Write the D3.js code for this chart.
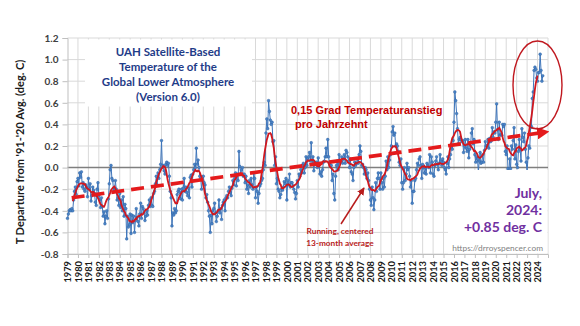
<!DOCTYPE html>
<html>
<head>
<meta charset="utf-8">
<script src="https://cdnjs.cloudflare.com/ajax/libs/d3/7.8.5/d3.min.js"></script>
<style>
  body { margin: 0; background: #fff; }
  .chart text { font-family: Lato, "Open Sans", sans-serif; font-weight: bold; }
</style>
</head>
<body>
<svg class="chart" width="580" height="326"></svg>
<script>

//DATA

// UAH LT v6.0 monthly anomalies, Jan 1979 .. Jul 2024 (one row per year)
var anomalies = [
  -0.47,-0.43,-0.40,-0.39,-0.40,-0.38,-0.40,-0.30,-0.22,-0.18,-0.25,-0.13, // 1979
  -0.10,-0.17,-0.05,-0.09,-0.04,-0.18,-0.14,-0.20,-0.22,-0.16,-0.18,-0.27, // 1980
  -0.10,-0.20,-0.15,-0.31,-0.26,-0.18,-0.21,-0.24,-0.32,-0.35,-0.20,-0.14, // 1981
  -0.26,-0.30,-0.37,-0.28,-0.36,-0.45,-0.41,-0.52,-0.45,-0.40,-0.47,-0.29, // 1982
  -0.15,-0.02, 0.02,-0.10,-0.12,-0.22,-0.20,-0.12,-0.20,-0.30,-0.28,-0.35, // 1983
  -0.24,-0.37,-0.30,-0.40,-0.27,-0.45,-0.34,-0.38,-0.66,-0.45,-0.55,-0.53, // 1984
  -0.43,-0.61,-0.44,-0.51,-0.45,-0.60,-0.49,-0.38,-0.46,-0.50,-0.54,-0.43, // 1985
  -0.33,-0.47,-0.36,-0.38,-0.42,-0.49,-0.45,-0.40,-0.44,-0.35,-0.30,-0.36, // 1986
  -0.28,-0.35,-0.36,-0.24,-0.22,-0.15,-0.08,-0.16,-0.05,-0.10,-0.02, 0.03, // 1987
   0.25, 0.00, 0.02,-0.03,-0.06, 0.03, 0.05, 0.02, 0.04,-0.08,-0.22,-0.28, // 1988
  -0.54,-0.42,-0.44,-0.38,-0.42,-0.40,-0.25,-0.22,-0.20,-0.23,-0.29,-0.20, // 1989
  -0.30,-0.19,-0.10,-0.22,-0.18,-0.23,-0.26,-0.19,-0.28,-0.09,-0.07,-0.18, // 1990
  -0.06,-0.02, 0.03, 0.00, 0.18, 0.03, 0.07, 0.00,-0.08,-0.10,-0.20,-0.12, // 1991
  -0.08,-0.14,-0.16,-0.28,-0.25,-0.32,-0.40,-0.45,-0.60,-0.44,-0.52,-0.40, // 1992
  -0.38,-0.33,-0.42,-0.50,-0.45,-0.40,-0.30,-0.42,-0.38,-0.48,-0.35,-0.32, // 1993
  -0.30,-0.40,-0.28,-0.26,-0.28,-0.22,-0.18,-0.23,-0.26,-0.19,-0.12,-0.16, // 1994
  -0.10,-0.05,-0.17,-0.06,-0.12, 0.15, 0.01,-0.06,-0.02, 0.00,-0.08,-0.06, // 1995
  -0.14,-0.08,-0.20,-0.16,-0.24,-0.12,-0.18,-0.10,-0.16,-0.20,-0.05,-0.10, // 1996
  -0.28,-0.18,-0.22,-0.33,-0.24,-0.17,-0.15,-0.12,-0.10,-0.02, 0.05, 0.02, // 1997
   0.32, 0.45, 0.36, 0.62, 0.52, 0.44, 0.40, 0.42, 0.24, 0.25, 0.02, 0.10, // 1998
  -0.15,-0.10,-0.20,-0.22,-0.28,-0.25,-0.20,-0.21,-0.18,-0.13,-0.15,-0.10, // 1999
  -0.30,-0.12,-0.16,-0.06,-0.18,-0.14,-0.14,-0.17,-0.20,-0.23,-0.29,-0.24, // 2000
  -0.12,-0.18,-0.06,-0.08,-0.02,-0.05, 0.02, 0.04,-0.05, 0.00, 0.10, 0.02, // 2001
   0.08, 0.10, 0.14, 0.06, 0.23, 0.03, 0.10,-0.03, 0.05, 0.03, 0.05, 0.00, // 2002
   0.09, 0.03,-0.06,-0.04,-0.08,-0.02, 0.05, 0.06, 0.10, 0.18, 0.10, 0.26, // 2003
   0.10, 0.04, 0.02, 0.02,-0.12,-0.06,-0.24,-0.30,-0.08, 0.02, 0.06,-0.02, // 2004
   0.12, 0.05, 0.06, 0.10, 0.04, 0.08, 0.12, 0.04, 0.16, 0.14, 0.10, 0.06, // 2005
   0.00, 0.08,-0.04,-0.06,-0.12, 0.00, 0.05, 0.02, 0.04, 0.08, 0.04, 0.12, // 2006
   0.20, 0.15, 0.02, 0.03, 0.00,-0.06, 0.00,-0.02,-0.10,-0.05,-0.12,-0.20, // 2007
  -0.30,-0.35,-0.18,-0.28,-0.39,-0.30,-0.14,-0.22,-0.10,-0.05,-0.10,-0.20, // 2008
  -0.05,-0.14,-0.20,-0.10,-0.18,-0.08, 0.06,-0.02, 0.10, 0.00, 0.07, 0.12, // 2009
   0.20, 0.33, 0.38, 0.30, 0.32, 0.20, 0.22, 0.20, 0.15, 0.05, 0.02, 0.08, // 2010
  -0.14,-0.20,-0.14, 0.00,-0.12,-0.06, 0.04,-0.02, 0.00,-0.08,-0.18,-0.12, // 2011
  -0.33,-0.22,-0.22,-0.12,-0.10,-0.02, 0.04, 0.02, 0.08, 0.10, 0.02,-0.10, // 2012
   0.03, 0.00,-0.05, 0.00,-0.06, 0.04, 0.02, 0.00, 0.12,-0.05, 0.10, 0.05, // 2013
  -0.06,-0.08, 0.02, 0.06, 0.10, 0.03,-0.02, 0.04, 0.12, 0.06, 0.02, 0.08, // 2014
   0.05, 0.00,-0.02,-0.06, 0.04, 0.10, 0.00, 0.08, 0.12, 0.18, 0.17, 0.25, // 2015
   0.42, 0.70, 0.62, 0.50, 0.36, 0.22, 0.26, 0.28, 0.26, 0.24, 0.25, 0.14, // 2016
   0.20, 0.26, 0.18, 0.15, 0.26, 0.09, 0.17, 0.20, 0.32, 0.36, 0.22, 0.26, // 2017
   0.12, 0.05, 0.10, 0.08,-0.04, 0.06, 0.14, 0.04, 0.05, 0.12, 0.05, 0.16, // 2018
   0.24, 0.20, 0.20, 0.26, 0.18, 0.27, 0.24, 0.25, 0.37, 0.28, 0.33, 0.32, // 2019
   0.42, 0.59, 0.35, 0.26, 0.42, 0.30, 0.31, 0.30, 0.40, 0.38, 0.40, 0.15, // 2020
   0.12, 0.20,-0.01,-0.05, 0.08,-0.01, 0.20, 0.17, 0.25, 0.37, 0.08, 0.21, // 2021
   0.03, 0.00, 0.15, 0.26, 0.17, 0.06, 0.36, 0.28, 0.24, 0.32, 0.17, 0.05, // 2022
  -0.04, 0.09, 0.20, 0.18, 0.37, 0.38, 0.64, 0.70, 0.90, 0.93, 0.91, 0.83, // 2023
   0.80, 0.88, 0.88, 1.05, 0.90, 0.80, 0.85                                // 2024
];

var years = [1979,1980,1981,1982,1983,1984,1985,1986,1987,1988,1989,1990,1991,1992,1993,
             1994,1995,1996,1997,1998,1999,2000,2001,2002,2003,2004,2005,2006,2007,2008,
             2009,2010,2011,2012,2013,2014,2015,2016,2017,2018,2019,2020,2021,2022,2023,2024];

var yTicks = [-0.8, -0.6, -0.4, -0.2, 0.0, 0.2, 0.4, 0.6, 0.8, 1.0, 1.2];

// dashed trend arrow: [year, anomaly]
var trendLine = [[1979.4, -0.28], [2024.9, 0.33]];

var titleLines = ["UAH Satellite-Based", "Temperature of the", "Global Lower Atmosphere", "(Version 6.0)"];
var trendLabel = ["0,15 Grad Temperaturanstieg", "pro Jahrzehnt"];
var avgLabel = ["Running, centered", "13-month average"];
var latestLabel = ["July,", "2024:", "+0.85 deg. C"];


//SETUP

var svg = d3.select(".chart"),
    margin = {top: 38, right: 32, bottom: 72, left: 67.5},
    width = +svg.attr("width") - margin.left - margin.right,
    height = +svg.attr("height") - margin.top - margin.bottom,
    g = svg.append("g").attr("transform", "translate(" + margin.left + "," + margin.top + ")");

var x = d3.scaleLinear()
    .domain([years[0], years[years.length - 1] + 1])
    .range([0, width]);

var y = d3.scaleLinear()
    .domain([yTicks[0], yTicks[yTicks.length - 1]])
    .range([height, 0]);

var series = anomalies.map(function(v, i) { return {t: years[0] + i / 12, v: v}; });

// centered 13-month running mean
var running = [];
for (var i = 6; i < series.length - 6; i++) {
  running.push({t: series[i].t, v: d3.mean(series.slice(i - 6, i + 7), function(d) { return d.v; })});
}

svg.append("defs").append("marker")
    .attr("id", "trendHead")
    .attr("viewBox", "0 0 10 10")
    .attr("refX", 8).attr("refY", 5)
    .attr("markerWidth", 3.4).attr("markerHeight", 3.4)
    .attr("orient", "auto")
  .append("path")
    .attr("d", "M0,0L10,5L0,10z")
    .attr("fill", "#e41a1c");

svg.select("defs").append("marker")
    .attr("id", "noteHead")
    .attr("viewBox", "0 0 10 10")
    .attr("refX", 9).attr("refY", 5)
    .attr("markerWidth", 5).attr("markerHeight", 5)
    .attr("orient", "auto")
  .append("path")
    .attr("d", "M0,0L10,5L0,10z")
    .attr("fill", "#b81c1c");


//GRID

g.append("g")
  .selectAll("line")
  .data(years.slice(1).concat([years[years.length - 1] + 1]))
  .enter().append("line")
    .attr("x1", function(d) { return x(d); })
    .attr("x2", function(d) { return x(d); })
    .attr("y1", 0)
    .attr("y2", height)
    .attr("stroke", "#d9d9d9")
    .attr("stroke-width", 1);

g.append("g")
  .selectAll("line")
  .data(yTicks)
  .enter().append("line")
    .attr("x1", 0)
    .attr("x2", width)
    .attr("y1", function(d) { return y(d); })
    .attr("y2", function(d) { return y(d); })
    .attr("stroke", function(d) { return d === 0 ? "#7f7f7f" : "#d9d9d9"; })
    .attr("stroke-width", function(d) { return d === 0 ? 1.5 : 1; });

// white text boxes sit over the grid
svg.append("rect")
    .attr("x", 85).attr("y", 39.5).attr("width", 167).attr("height", 67)
    .attr("fill", "#fff");

svg.append("rect")
    .attr("x", 448).attr("y", 170).attr("width", 99.5).attr("height", 83.5)
    .attr("fill", "#fff");


//AXES

var yAxis = g.append("g")
    .call(d3.axisLeft(y).tickValues(yTicks).tickSize(5).tickPadding(4)
      .tickFormat(function(d) { return d.toFixed(1); }));

yAxis.select(".domain").attr("stroke", "#bfbfbf");
yAxis.selectAll(".tick line").attr("stroke", "#bfbfbf");
yAxis.selectAll("text")
    .attr("fill", "#404040")
    .style("font-size", "10px");

var xAxis = g.append("g")
    .attr("transform", "translate(0," + height + ")")
    .call(d3.axisBottom(x).tickValues(years).tickSize(4).tickFormat(d3.format("d")));

xAxis.select(".domain").attr("stroke", "#bfbfbf");
xAxis.selectAll(".tick line").attr("stroke", "#bfbfbf");
xAxis.selectAll("text")
    .attr("fill", "#1a1a1a")
    .style("font-size", "9.3px")
    .style("text-anchor", "end")
    .attr("x", -7)
    .attr("y", 0)
    .attr("dy", "0.34em")
    .attr("transform", "rotate(-90)");

svg.append("text")
    .attr("transform", "translate(24," + (margin.top + height / 2 + 6) + ") rotate(-90)")
    .attr("text-anchor", "middle")
    .attr("fill", "#1a1a1a")
    .style("font-size", "11px")
    .text("T Departure from '91-'20 Avg. (deg. C)");


//SERIES

var line = d3.line()
    .x(function(d) { return x(d.t); })
    .y(function(d) { return y(d.v); });

g.append("path")
    .datum(series)
    .attr("fill", "none")
    .attr("stroke", "#3f76bb")
    .attr("stroke-width", 1)
    .attr("d", line);

g.append("g")
  .selectAll("circle")
  .data(series)
  .enter().append("circle")
    .attr("cx", function(d) { return x(d.t); })
    .attr("cy", function(d) { return y(d.v); })
    .attr("r", 1.4)
    .attr("fill", "#4a83c6")
    .attr("stroke", "#2d5f9e")
    .attr("stroke-width", 0.4);

g.append("path")
    .datum(running)
    .attr("fill", "none")
    .attr("stroke", "#d0181f")
    .attr("stroke-width", 1.8)
    .attr("d", line);

g.append("path")
    .datum(trendLine)
    .attr("fill", "none")
    .attr("stroke", "#e41a1c")
    .attr("stroke-width", 3.6)
    .attr("stroke-dasharray", "13,7")
    .attr("marker-end", "url(#trendHead)")
    .attr("d", d3.line()
      .x(function(d) { return x(d[0]); })
      .y(function(d) { return y(d[1]); }));


//ANNOTATIONS

svg.append("g")
  .selectAll("text")
  .data(titleLines)
  .enter().append("text")
    .attr("x", 168)
    .attr("y", function(d, i) { return 56 + i * 15; })
    .attr("text-anchor", "middle")
    .attr("fill", "#1f3c88")
    .style("font-size", "11.5px")
    .text(function(d) { return d; });

svg.append("g")
  .selectAll("text")
  .data(trendLabel)
  .enter().append("text")
    .attr("x", function(d, i) { return i ? 295 : 291; })
    .attr("y", function(d, i) { return 114 + i * 13.5; })
    .attr("fill", "#c00000")
    .style("font-family", "'Liberation Sans', Arial, sans-serif")
    .style("font-size", "11px")
    .text(function(d) { return d; });

svg.append("g")
  .selectAll("text")
  .data(avgLabel)
  .enter().append("text")
    .attr("x", 340)
    .attr("y", function(d, i) { return 234 + i * 11.5; })
    .attr("text-anchor", "middle")
    .attr("fill", "#b81c1c")
    .style("font-size", "8.3px")
    .text(function(d) { return d; });

svg.append("line")
    .attr("x1", 341).attr("y1", 224)
    .attr("x2", 364).attr("y2", 188)
    .attr("stroke", "#b81c1c")
    .attr("stroke-width", 1.5)
    .attr("marker-end", "url(#noteHead)");

svg.append("g")
  .selectAll("text")
  .data(latestLabel)
  .enter().append("text")
    .attr("x", 542)
    .attr("y", function(d, i) { return 198 + i * 17; })
    .attr("text-anchor", "end")
    .attr("fill", "#7030a0")
    .style("font-size", "14px")
    .text(function(d) { return d; });

svg.append("text")
    .attr("x", 543)
    .attr("y", 251)
    .attr("text-anchor", "end")
    .attr("fill", "#7f7f7f")
    .style("font-weight", "normal")
    .style("font-size", "8.3px")
    .text("https://drroyspencer.com");

svg.append("ellipse")
    .attr("cx", 537.5).attr("cy", 85)
    .attr("rx", 24.5).attr("ry", 44)
    .attr("fill", "none")
    .attr("stroke", "#c0181f")
    .attr("stroke-width", 1.4);

</script>
</body>
</html>
